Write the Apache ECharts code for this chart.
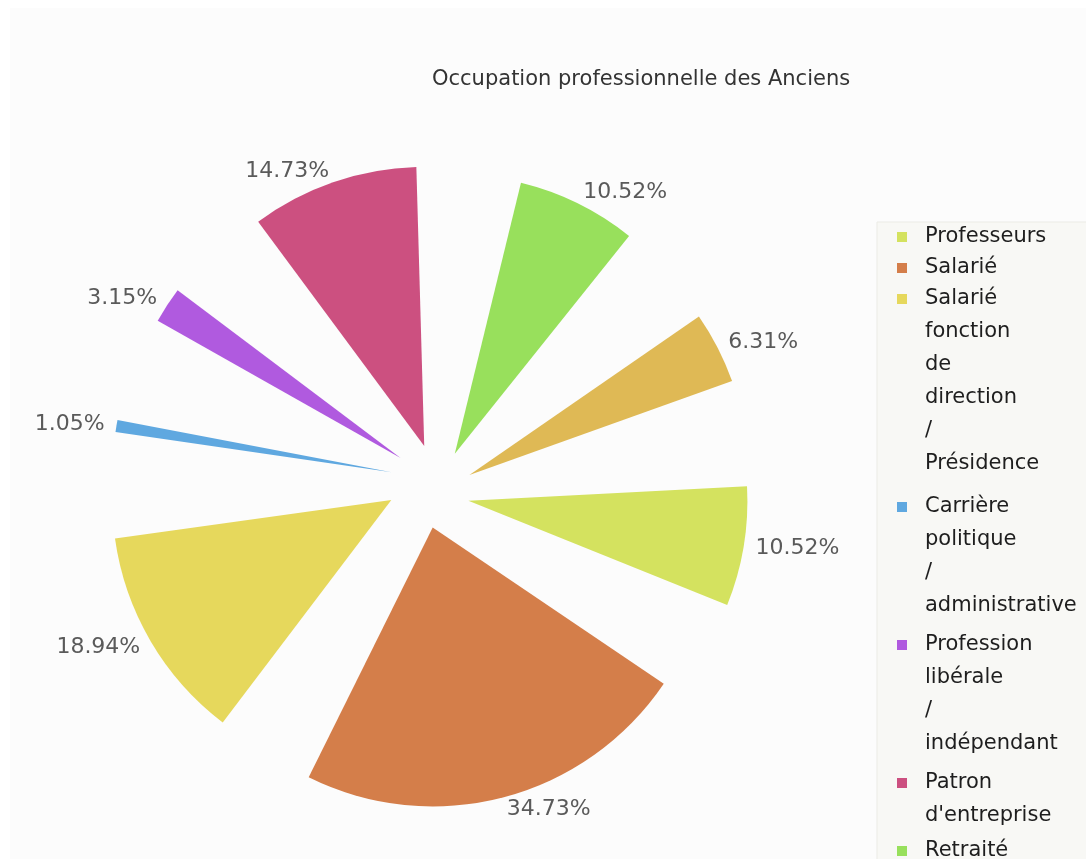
<!DOCTYPE html>
<html>
<head>
<meta charset="utf-8">
<title>Occupation professionnelle des Anciens</title>
<script src="https://cdn.jsdelivr.net/npm/echarts@6/dist/echarts.min.js"></script>
<style>
  html, body { margin: 0; padding: 0; background: #ffffff; }
  #chart { position: absolute; left: 10px; top: 8px; width: 1076px; height: 851px; background: #fcfcfc; }
</style>
</head>
<body>
<div id="chart"></div>
<script>
// catégories (ordre de la légende, sens horaire)
const names = [
  'Professeurs',
  'Salarié',
  'Salarié fonction de direction / Présidence',
  'Carrière politique / administrative',
  'Profession libérale / indépendant',
  "Patron d'entreprise",
  'Retraité',
  'Autre'
]
// parts en %
const values = [10.52, 34.73, 18.94, 1.05, 3.15, 14.73, 10.52, 6.31]
const colors = ['#d4e25f', '#d47e4a', '#e6d85c', '#5fa8e0', '#b05adf', '#cc5080', '#98e05c', '#dfb955']

// réglages de mise en page
const SLOT_BASE = 19.4 // part fixe de chaque secteur réservé (degrés)
const VIS_SCALE = 2.37 // degrés dessinés par point de %
const RADIUS = 279 // rayon des parts, px
const EXPLODE = 41 / RADIUS // décalage des parts vers l'extérieur
const TWIST = 11 // la direction d'éclatement est tournée par rapport à la bissectrice
const LABEL_OFF = 12 / RADIUS
const LINE_H = 33

// disposition des parts sur l'axe angulaire (0..360)
const sum = values.reduce((a, b) => a + b, 0)
const slotScale = (360 - SLOT_BASE * values.length) / sum
let cum = 0
const slots = values.map(v => {
  const slot = SLOT_BASE + slotScale * v
  const mid = cum + slot / 2
  cum += slot
  return [v, mid - VIS_SCALE * v / 2, mid + VIS_SCALE * v / 2]
})

function renderSlice (params, api) {
  const a0 = api.value(1)
  const a1 = api.value(2)
  const mid = (a0 + a1) / 2
  const c = api.coord([0, mid])
  const apex = api.coord([EXPLODE, mid + TWIST])
  const pm = api.coord([1, mid])
  const p0 = api.coord([1, a0])
  const p1 = api.coord([1, a1])
  const r = Math.hypot(pm[0] - c[0], pm[1] - c[1])
  const start = Math.atan2(p0[1] - c[1], p0[0] - c[0])
  let end = Math.atan2(p1[1] - c[1], p1[0] - c[0])
  while (end < start) end += Math.PI * 2
  const pl = api.coord([1 + LABEL_OFF, mid])
  const lx = apex[0] + pl[0] - c[0]
  const ly = apex[1] + pl[1] - c[1]
  return {
    type: 'group',
    children: [
      {
        type: 'sector',
        shape: { cx: apex[0], cy: apex[1], r: r, r0: 0, startAngle: start, endAngle: end, clockwise: true },
        style: { fill: api.visual('color') }
      },
      {
        type: 'text',
        x: lx,
        y: ly,
        style: {
          text: api.value(0).toFixed(2) + '%',
          fill: '#5a5a5a',
          font: '22px "DejaVu Sans"',
          align: lx >= apex[0] ? 'left' : 'right',
          verticalAlign: 'middle'
        }
      }
    ]
  }
}

// une légende par entrée, pour aligner le carré sur la première ligne
let legendTop = 229 - LINE_H / 2
const legends = names.map(n => {
  const lines = n.split(' ').length
  const h = lines * LINE_H
  const lg = {
    data: [n],
    orient: 'vertical',
    left: 887,
    top: legendTop,
    padding: 0,
    itemWidth: 10,
    itemHeight: h,
    icon: 'path://M0,' + (LINE_H / 2 - 5) + 'h10v10h-10z M0,0h10 M0,' + h + 'h10',
    itemStyle: { borderWidth: 0 },
    selectedMode: false,
    formatter: name => name.split(' ').join('\n'),
    textStyle: { fontFamily: 'DejaVu Sans', fontSize: 21, color: '#1e1e1e', lineHeight: LINE_H, padding: [0, 0, 0, 13] }
  }
  legendTop += h + (lines > 1 ? lines * 2 - 2 : -2)
  return lg
})

const chart = echarts.init(document.getElementById('chart'))

chart.setOption({
  backgroundColor: '#fcfcfc',
  animation: false,
  title: {
    text: 'Occupation professionnelle des Anciens',
    left: 417,
    top: 56,
    textStyle: { fontFamily: 'DejaVu Sans', fontSize: 21, fontWeight: 'normal', color: '#333333' }
  },
  graphic: [{
    type: 'rect',
    z: 0,
    shape: { x: 867, y: 214, width: 240, height: 700 },
    style: { fill: '#f8f8f5', stroke: '#ebebe6', lineWidth: 1 }
  }],
  legend: legends,
  polar: { center: [420, 478.5], radius: RADIUS },
  angleAxis: { type: 'value', min: 0, max: 360, startAngle: 11, clockwise: true, show: false },
  radiusAxis: { type: 'value', min: 0, max: 1, show: false },
  series: names.map((n, i) => ({
    type: 'custom',
    name: n,
    coordinateSystem: 'polar',
    itemStyle: { color: colors[i] },
    renderItem: renderSlice,
    data: [slots[i]]
  }))
})
</script>
</body>
</html>
